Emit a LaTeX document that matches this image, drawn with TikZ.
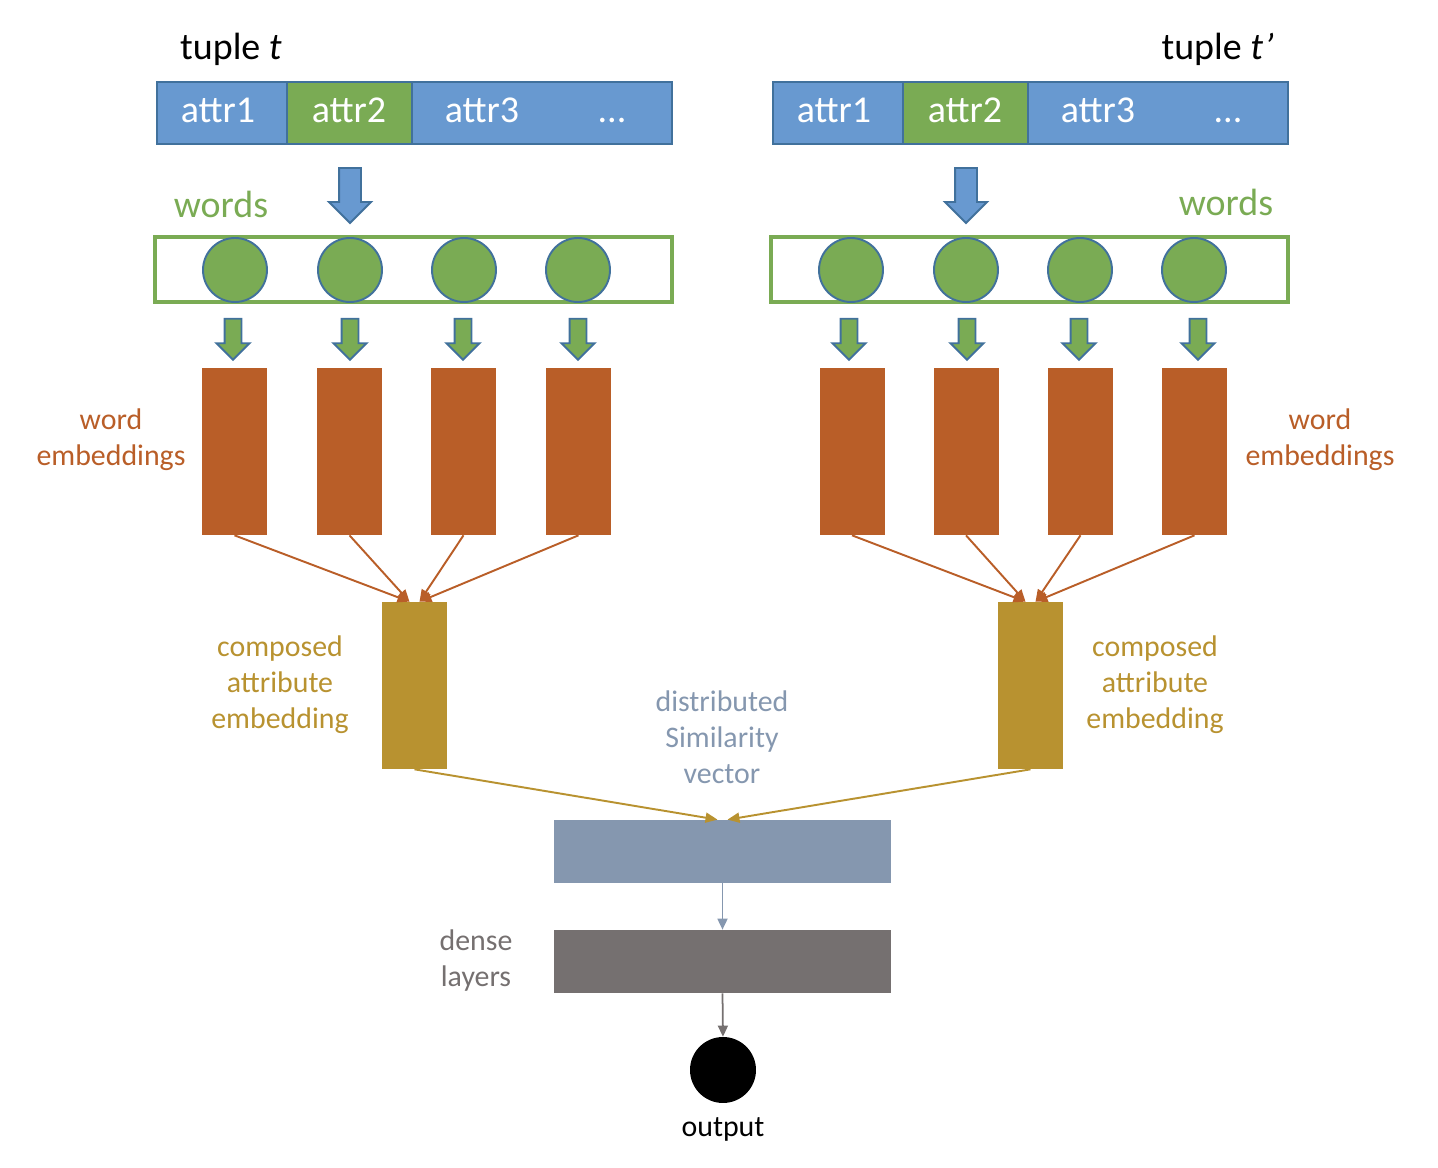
\documentclass[tikz,border=0pt]{standalone}
\usepackage{fontspec}
\setmainfont{Carlito}
\usetikzlibrary{shapes.arrows,arrows.meta}
\definecolor{attrblue}{RGB}{104,153,208}
\definecolor{edgeblue}{RGB}{65,113,156}
\definecolor{wordgreen}{RGB}{122,171,84}
\definecolor{embedorange}{RGB}{185,94,40}
\definecolor{composedgold}{RGB}{184,146,48}
\definecolor{simblue}{RGB}{133,151,175}
\definecolor{densegray}{RGB}{117,112,112}

\begin{document}
\begin{tikzpicture}[x=0.02cm, y=-0.02cm,
  bigtext/.style={font=\fontsize{21.6}{26}\selectfont},
  smalltext/.style={font=\fontsize{17}{20.5}\selectfont, align=center},
  attrcell/.style={draw=edgeblue, line width=1.1pt, fill=attrblue, minimum height=1.24cm, inner sep=0pt},
  celltext/.style={bigtext, text=white, anchor=base},
  downarrow/.style={single arrow, shape border rotate=270, draw=edgeblue, line width=1.1pt, fill=attrblue, inner xsep=0.2cm, inner ysep=0pt, minimum height=1.1cm, single arrow head extend=0.2cm},
  wordarrow/.style={downarrow, fill=wordgreen, inner xsep=0.15cm, minimum height=0.82cm, single arrow head extend=0.16cm},
  wordbox/.style={draw=wordgreen, line width=1.8pt, minimum width=10.34cm, minimum height=1.3cm, inner sep=0pt},
  wordcircle/.style={circle, draw=edgeblue, line width=1.1pt, fill=wordgreen, minimum size=1.28cm, inner sep=0pt},
  embedbox/.style={fill=embedorange, minimum width=1.3cm, minimum height=3.34cm, inner sep=0pt},
  composedbox/.style={embedbox, fill=composedgold},
  layerbox/.style={minimum width=6.74cm, minimum height=1.26cm, inner sep=0pt},
  embedline/.style={draw=embedorange, line width=1.1pt, -{Triangle[length=0.24cm,width=0.2cm]}},
  composedline/.style={draw=composedgold, line width=1.1pt, -{Triangle[length=0.24cm,width=0.2cm]}},
]
\useasboundingbox (0,0) rectangle (1438,1168);

% left tuple
\node[bigtext, anchor=base west] (tl) at (174,60) {tuple \textit{t}};
\node[attrcell, minimum width=2.6cm] (la1) at (222,113) {};
\node[attrcell, minimum width=2.5cm, fill=wordgreen] (la2) at (349.5,113) {};
\node[attrcell, minimum width=5.2cm] (la3) at (542,113) {};
\node[celltext] (la1t) at (218,123) {attr1};
\node[celltext] (la2t) at (349,123) {attr2};
\node[celltext] (la3t) at (482,123) {attr3};
\node[celltext] (la3d) at (612,123) {...};
\node[downarrow] (lda) at (350,190) {};
\node[bigtext, text=wordgreen, anchor=base] (lw) at (221,218) {words};
\node[wordbox] (lwb) at (413.5,269.5) {};
\node[wordcircle] (lw1) at (235,270) {};
\node[wordcircle] (lw2) at (350,270) {};
\node[wordcircle] (lw3) at (464,270) {};
\node[wordcircle] (lw4) at (578,270) {};
\node[wordarrow] (lwa1) at (233,335) {};
\node[wordarrow] (lwa2) at (350,335) {};
\node[wordarrow] (lwa3) at (463,335) {};
\node[wordarrow] (lwa4) at (578,335) {};
\node[embedbox] (le1) at (234.5,451.5) {};
\node[embedbox] (le2) at (349.5,451.5) {};
\node[embedbox] (le3) at (463.5,451.5) {};
\node[embedbox] (le4) at (578.5,451.5) {};
\node[smalltext, text=embedorange] (lwe) at (111,440) {word\\embeddings};
\node[composedbox] (lc) at (414.5,685.5) {};
\node[smalltext, text=composedgold] (lce) at (280,685) {composed\\attribute\\embedding};
\draw[embedline] (le1.south) -- ([xshift=-0.1cm]lc.north);
\draw[embedline] (le2.south) -- ([xshift=-0.1cm]lc.north);
\draw[embedline] (le3.south) -- ([xshift=0.1cm]lc.north);
\draw[embedline] (le4.south) -- ([xshift=0.1cm]lc.north);

% right tuple
\node[bigtext, anchor=base east] (tr) at (1280,60) {tuple \textit{t’}};
\node[attrcell, minimum width=2.6cm] (ra1) at (838,113) {};
\node[attrcell, minimum width=2.5cm, fill=wordgreen] (ra2) at (965.5,113) {};
\node[attrcell, minimum width=5.2cm] (ra3) at (1158,113) {};
\node[celltext] (ra1t) at (834,123) {attr1};
\node[celltext] (ra2t) at (965,123) {attr2};
\node[celltext] (ra3t) at (1098,123) {attr3};
\node[celltext] (ra3d) at (1228,123) {...};
\node[downarrow] (rda) at (966,190) {};
\node[bigtext, text=wordgreen, anchor=base] (rw) at (1226,216) {words};
\node[wordbox] (rwb) at (1029.5,269.5) {};
\node[wordcircle] (rw1) at (851,270) {};
\node[wordcircle] (rw2) at (966,270) {};
\node[wordcircle] (rw3) at (1080,270) {};
\node[wordcircle] (rw4) at (1194,270) {};
\node[wordarrow] (rwa1) at (849,335) {};
\node[wordarrow] (rwa2) at (967,335) {};
\node[wordarrow] (rwa3) at (1079,335) {};
\node[wordarrow] (rwa4) at (1198,335) {};
\node[embedbox] (re1) at (852,451.5) {};
\node[embedbox] (re2) at (966,451.5) {};
\node[embedbox] (re3) at (1080.5,451.5) {};
\node[embedbox] (re4) at (1194.5,451.5) {};
\node[smalltext, text=embedorange] (rwe) at (1320,440) {word\\embeddings};
\node[composedbox] (rc) at (1030.5,685.5) {};
\node[smalltext, text=composedgold] (rce) at (1155,685) {composed\\attribute\\embedding};
\draw[embedline] (re1.south) -- ([xshift=-0.1cm]rc.north);
\draw[embedline] (re2.south) -- ([xshift=-0.1cm]rc.north);
\draw[embedline] (re3.south) -- ([xshift=0.1cm]rc.north);
\draw[embedline] (re4.south) -- ([xshift=0.1cm]rc.north);

% similarity, dense layers, output
\node[smalltext, text=simblue] (simt) at (722,737) {distributed\\Similarity\\vector};
\node[layerbox, fill=simblue] (sim) at (722.5,851.5) {};
\node[layerbox, fill=densegray] (dense) at (722.5,961.5) {};
\node[smalltext, text=densegray] (denset) at (476,961) {dense\\layers};
\node[circle, fill=black, minimum size=1.32cm, inner sep=0pt] (out) at (723,1070) {};
\node[smalltext] (outt) at (723,1129) {output};
\draw[composedline] (lc.south) -- ([xshift=-0.1cm]sim.north);
\draw[composedline] (rc.south) -- ([xshift=0.1cm]sim.north);
\draw[simblue, line width=1pt, -{Triangle[length=0.22cm,width=0.2cm]}] (sim.south) -- (dense.north);
\draw[densegray, line width=1pt, -{Triangle[length=0.22cm,width=0.2cm]}] (dense.south) -- (out.north);
\end{tikzpicture}
\end{document}
